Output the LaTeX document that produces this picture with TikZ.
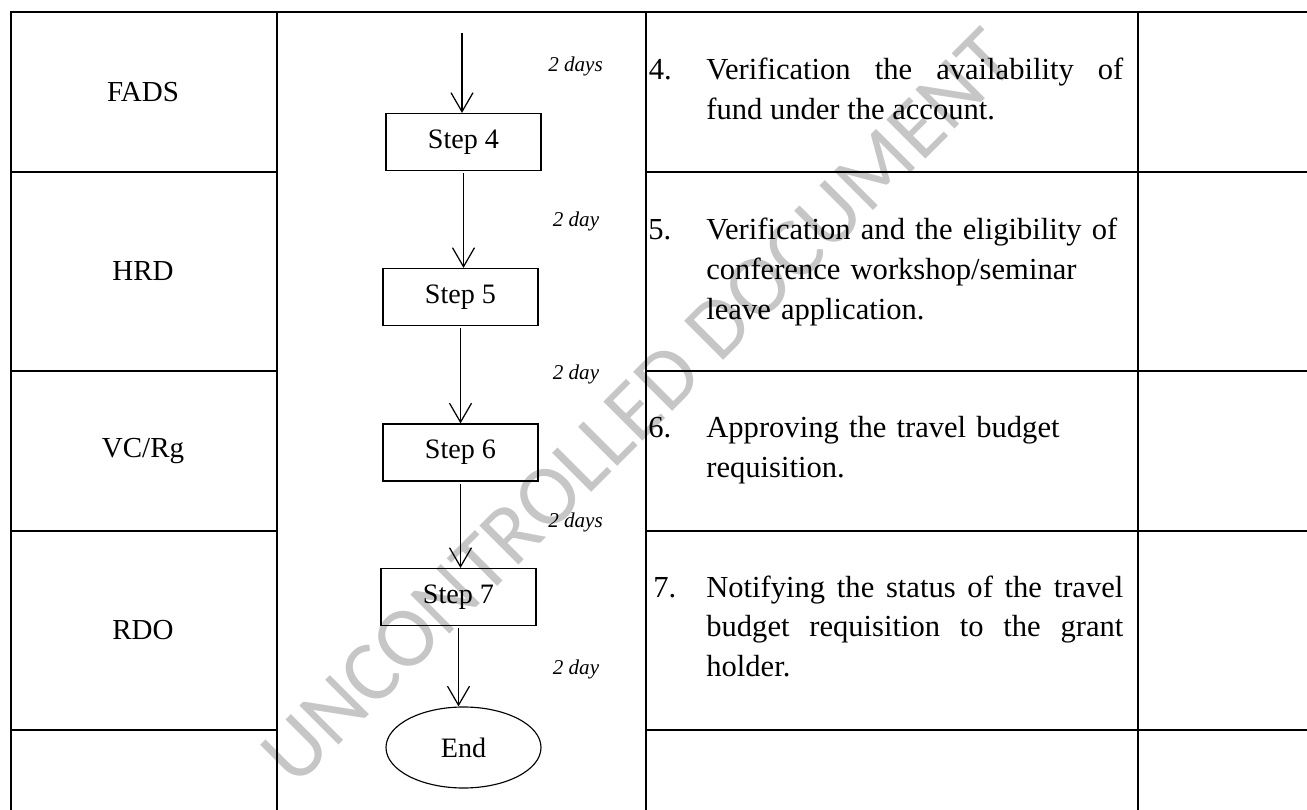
\documentclass[tikz,border=0pt]{standalone}
\usepackage{fontspec}
\setmainfont{Liberation Serif}
\newfontfamily\wmfont{Carlito}
\usetikzlibrary{arrows.meta,shapes.geometric}
\definecolor{wmgray}{RGB}{198,198,198}

\begin{document}
\begin{tikzpicture}[
    grid/.style={line width=1.05pt},
    stepbox/.style={draw,line width=0.65pt,minimum width=3.1cm,minimum height=1.14cm,
        inner sep=0pt,font=\fontsize{16}{18}\selectfont},
    endnode/.style={draw,ellipse,line width=0.65pt,minimum width=3.1cm,minimum height=1.62cm,
        inner sep=0pt,font=\fontsize{16}{18}\selectfont},
    lane/.style={font=\fontsize{16.5}{19}\selectfont},
    days/.style={font=\fontsize{12}{14}\selectfont\itshape},
    flow/.style={line width=0.7pt,shorten <=0.04cm,-{Straight Barb[length=0.38cm,width=0.44cm]}},
    itemno/.style={anchor=base west,inner sep=0pt,font=\fontsize{17.4}{22.5}\selectfont},
    itemtext/.style={anchor=base west,inner sep=0pt,text width=8.34cm,
        font=\fontsize{17.4}{22.5}\selectfont},
]
\useasboundingbox (0,0) rectangle (26.14,-16.2);

%% watermark
\node[text=wmgray,rotate=45,font=\wmfont\fontsize{49}{50}\selectfont] (wm) at (12.76,-8.14)
    {UNCONTROLLED DOCUMENT};

%% table
\draw[grid] (26.4,-0.24) -- (0.22,-0.24) -- (0.22,-16.4);
\foreach \x in {5.54,12.92,22.76}
    \draw[grid] (\x,-0.24) -- (\x,-16.4);
\foreach \y in {3.44,7.42,10.62,14.6} {
    \draw[grid] (0.22,-\y) -- (5.54,-\y);
    \draw[grid] (12.92,-\y) -- (26.4,-\y);
}

%% lanes
\node[lane] (fads) at (2.86,-1.84) {FADS};
\node[lane] (hrd) at (2.86,-5.42) {HRD};
\node[lane] (vcrg) at (2.86,-9.02) {VC/Rg};
\node[lane] (rdo) at (2.86,-12.6) {RDO};

%% flow
\coordinate (start) at (9.24,-0.62);
\node[stepbox] (s4) at (9.27,-2.84) {Step 4};
\node[stepbox] (s5) at (9.21,-5.94) {Step 5};
\node[stepbox] (s6) at (9.21,-9.05) {Step 6};
\node[stepbox] (s7) at (9.17,-11.94) {Step 7};
\node[endnode] (end) at (9.27,-14.95) {End};
\draw[flow] (start) -- (start |- s4.north);
\draw[flow] (s4.south) -- (s4.south |- s5.north);
\draw[flow] (s5.south) -- (s5.south |- s6.north);
\draw[flow] (s6.south) -- (s6.south |- s7.north);
\draw[flow] (s7.south) -- (s7.south |- end.north);

%% durations
\node[days] (d4) at (11.51,-1.33) {2 days};
\node[days] (d5) at (11.52,-4.42) {2 day};
\node[days] (d6) at (11.52,-7.48) {2 day};
\node[days] (d7) at (11.51,-10.45) {2 days};
\node[days] (d8) at (11.52,-13.38) {2 day};

%% descriptions
\node[itemno] (n4) at (12.97,-1.6) {4.};
\node[itemtext,align=justify] (t4) at (14.12,-1.6)
    {Verification the availability of\linebreak fund under the account.};
\node[itemno] (n5) at (12.96,-4.8) {5.};
\node[itemtext,align=left] (t5) at (14.12,-4.8)
    {Verification and the eligibility of\\ conference workshop/seminar\\ leave application.};
\node[itemno] (n6) at (12.96,-8.76) {6.};
\node[itemtext,align=left] (t6) at (14.12,-8.76)
    {Approving the travel budget\\ requisition.};
\node[itemno] (n7) at (13.06,-11.94) {7.};
\node[itemtext,align=justify] (t7) at (14.12,-11.94)
    {Notifying the status of the travel\linebreak budget requisition to the grant\linebreak holder.};
\end{tikzpicture}
\end{document}
